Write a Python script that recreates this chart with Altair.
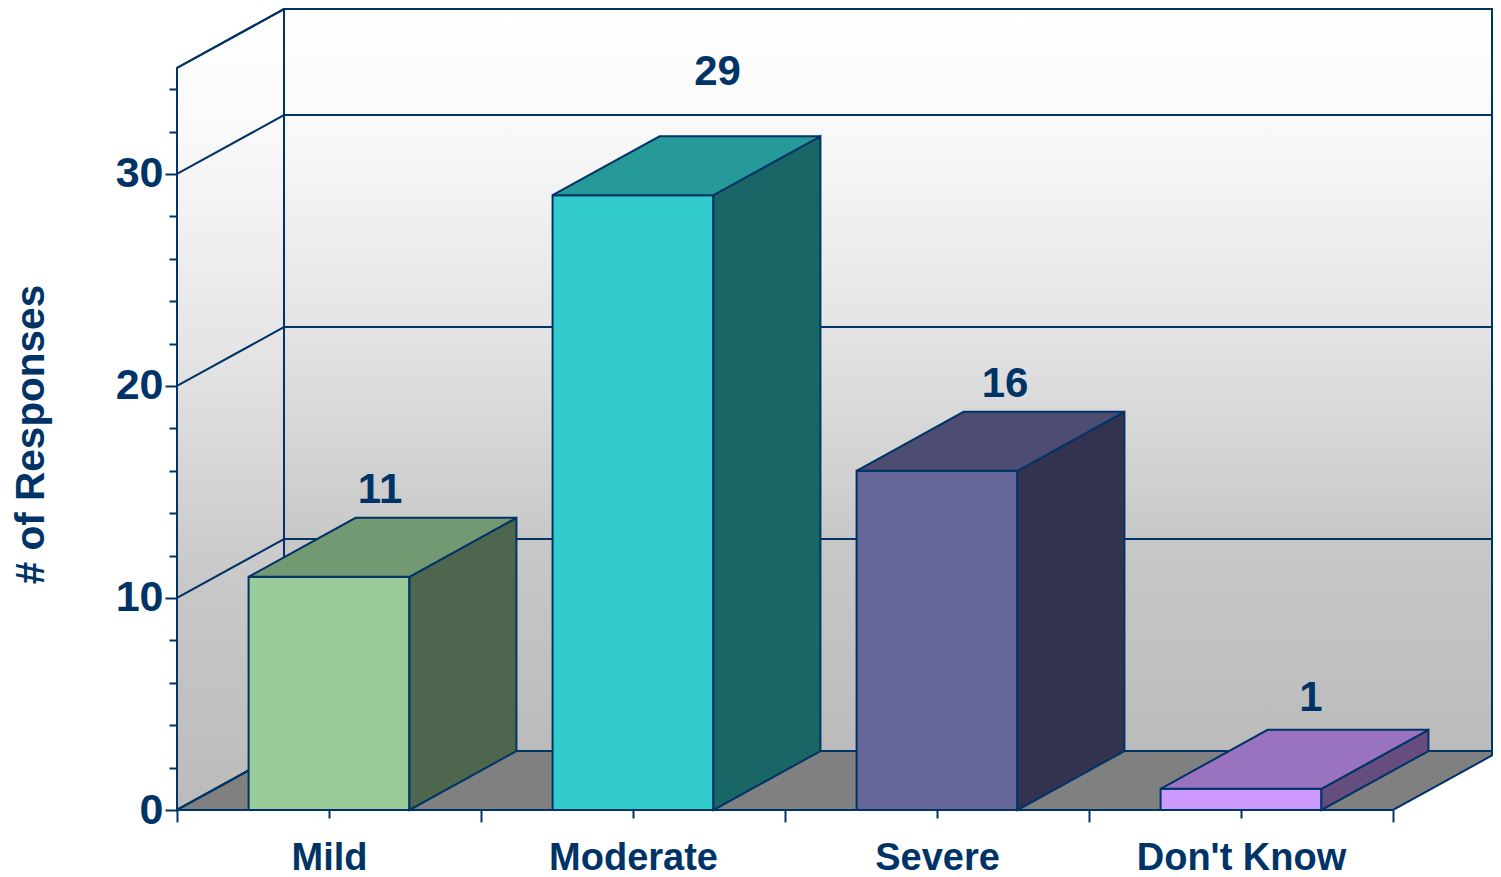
import altair as alt
import pandas as pd

categories = ["Mild", "Moderate", "Severe", "Don't Know"]
values = [11, 29, 16, 1]
front_colors = ["#99cc99", "#33cccc", "#666699", "#cc99ff"]
top_colors = ["#739973", "#269999", "#4d4d73", "#9973bf"]
side_colors = ["#4d664d", "#196666", "#333350", "#664d80"]
label_x = [0.668, 1.778, 2.724, 3.73]
label_y = [15.1, 34.8, 20.1, 5.26]
grid_levels = [0, 10, 20, 30, 35]

INK = "#003366"
DEPTH_X = 0.352
DEPTH_Y = 2.78
BAR_W = 0.529
FLOOR_END = 4.0
X_MAX = 1315 / 304
Y_MAX = 37.83
FONT = "Liberation Sans"

x_scale = alt.Scale(domain=[0, X_MAX], nice=False, zero=False)
y_scale = alt.Scale(domain=[0, Y_MAX], nice=False, zero=False)


def face_rows(face, color, segs):
    return [dict(face=face, color=color, x=a, lo=b, hi=c) for a, b, c in segs]


rows = []
for i, (cat, v) in enumerate(zip(categories, values)):
    x0 = i + 0.5 - BAR_W / 2
    x1 = x0 + BAR_W
    rows += face_rows(f"{i}-front", front_colors[i], [(x0, 0, v), (x1, 0, v)])
    rows += face_rows(f"{i}-side", side_colors[i],
                      [(x1, 0, v), (x1 + DEPTH_X, DEPTH_Y, v + DEPTH_Y)])
    rows += face_rows(f"{i}-top", top_colors[i], [
        (x0, v, v),
        (x0 + DEPTH_X, v, v + DEPTH_Y),
        (x1, v, v + DEPTH_Y),
        (x1 + DEPTH_X, v + DEPTH_Y, v + DEPTH_Y),
    ])
faces = pd.DataFrame(rows)

grid_rows = []
for lv in grid_levels:
    grid_rows += [
        dict(level=lv, x=0, lo=lv, o=0),
        dict(level=lv, x=DEPTH_X, lo=lv + DEPTH_Y, o=1),
        dict(level=lv, x=X_MAX, lo=lv + DEPTH_Y, o=2),
    ]
grid = pd.DataFrame(grid_rows)


def gradient(stops):
    return alt.Gradient(
        gradient="linear", x1=0, x2=0, y1=0, y2=1,
        stops=[alt.GradientStop(color=c, offset=o) for o, c in stops],
    )


wall_fill = gradient([
    (0, "#ffffff"), (0.144, "#fafafa"), (0.43, "#e4e4e4"),
    (0.715, "#c8c8c8"), (1, "#bbbbbb"),
])

x_ticks = [k / 2 for k in range(9)]
y_ticks = list(range(0, 36, 2))
name_expr = (
    "datum.value === 0.5 ? \"" + categories[0] + "\" : "
    "datum.value === 1.5 ? \"" + categories[1] + "\" : "
    "datum.value === 2.5 ? \"" + categories[2] + "\" : "
    "datum.value === 3.5 ? \"" + categories[3] + "\" : ''"
)

x_axis = alt.Axis(
    values=x_ticks, labelExpr=name_expr, title=None, grid=False, domain=False,
    tickColor=INK, tickWidth=2,
    tickSize={"condition": {"test": "datum.value % 1 === 0", "value": 12}, "value": 8},
    labelFont=FONT, labelFontWeight="bold", labelFontSize=38, labelColor=INK,
    labelPadding=21, labelOverlap=False, labelFlush=False, labelLimit=0,
)
y_axis = alt.Axis(
    values=y_ticks, labelExpr="datum.value % 10 === 0 ? datum.value : ''",
    title="# of Responses", titleFont=FONT, titleFontWeight="bold", titleFontSize=40.5,
    titleColor=INK, titleAngle=-90, titleX=-146, titleY=426, titleAlign="center",
    titleBaseline="middle", titleLimit=0,
    grid=False, domain=False, tickColor=INK, tickWidth=2,
    tickSize={"condition": {"test": "datum.value % 10 === 0", "value": 12}, "value": 8},
    labelFont=FONT, labelFontWeight="bold", labelFontSize=43, labelColor=INK,
    labelPadding=2, labelOverlap=False,
)

X = alt.X("x:Q", scale=x_scale, axis=x_axis)
Y = alt.Y("lo:Q", scale=y_scale, axis=y_axis, stack=None)

back_wall = alt.Chart(pd.DataFrame([
    dict(x=DEPTH_X, lo=DEPTH_Y, hi=35 + DEPTH_Y),
    dict(x=X_MAX, lo=DEPTH_Y, hi=35 + DEPTH_Y),
])).mark_area(fill=wall_fill, stroke=INK, strokeWidth=2).encode(x=X, y=Y, y2="hi:Q")

left_wall = alt.Chart(pd.DataFrame([
    dict(x=0, lo=0, hi=35),
    dict(x=DEPTH_X, lo=DEPTH_Y, hi=35 + DEPTH_Y),
])).mark_area(fill=wall_fill, stroke=INK, strokeWidth=2).encode(x=X, y=Y, y2="hi:Q")

floor = alt.Chart(pd.DataFrame([
    dict(x=0, lo=0, hi=0),
    dict(x=DEPTH_X, lo=0, hi=DEPTH_Y),
    dict(x=FLOOR_END, lo=0, hi=DEPTH_Y),
    dict(x=X_MAX, lo=DEPTH_Y * (X_MAX - FLOOR_END) / DEPTH_X, hi=DEPTH_Y),
])).mark_area(fill="#808080", stroke=INK, strokeWidth=2).encode(x=X, y=Y, y2="hi:Q")

grid_lines = alt.Chart(grid).mark_line(stroke=INK, strokeWidth=2).encode(
    x=X, y=Y, detail="level:N", order="o:Q",
)

bars = alt.Chart(faces).mark_area(stroke=INK, strokeWidth=2).encode(
    x=X, y=Y, y2="hi:Q",
    color=alt.Color("color:N", scale=None),
    detail="face:N",
)

labels = alt.Chart(pd.DataFrame(dict(x=label_x, lo=label_y, v=values))).mark_text(
    font=FONT, fontWeight="bold", fontSize=42, color=INK, baseline="middle", align="center",
).encode(x=X, y=Y, text="v:Q")

chart = alt.layer(back_wall, left_wall, grid_lines, floor, bars, labels).properties(
    width=1315, height=802, autosize="none",
    padding={"left": 169, "top": 0, "right": 1, "bottom": 72},
    background="white",
).configure_view(stroke=None)

chart.save("out.html", embed_options={"renderer": "svg", "actions": False})
